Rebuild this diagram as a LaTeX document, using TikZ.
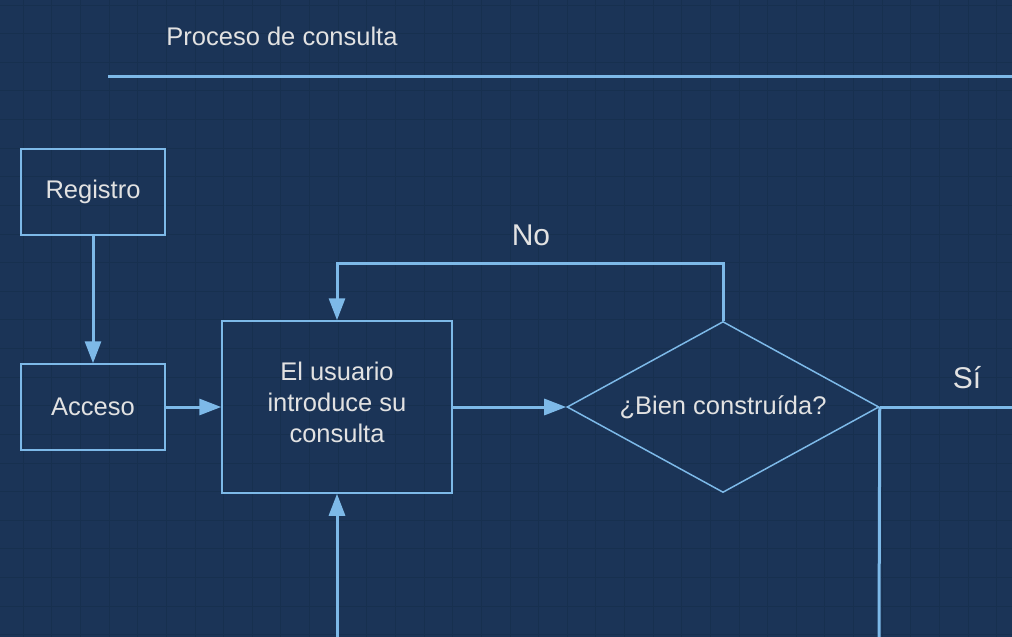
\documentclass[tikz,border=0pt]{standalone}
\usepackage{fontspec}
\setmainfont{Liberation Sans}
\usetikzlibrary{shapes.geometric,arrows.meta}

\definecolor{bgblue}{HTML}{1B3457}
\definecolor{gridblue}{HTML}{17304F}
\definecolor{lineblue}{HTML}{7DB9E8}
\definecolor{txtgray}{HTML}{E2E2E2}

\tikzset{
  box/.style={draw=lineblue, line width=0.75pt, text=txtgray, align=center,
    font=\fontsize{12.75}{15.5}\selectfont, inner sep=0pt},
  decision/.style={box, diamond, aspect=2, minimum width=156pt, minimum height=85.5pt},
  flow/.style={draw=lineblue, line width=1.5pt,
    -{Triangle[length=11pt,width=8pt]}},
  plain/.style={draw=lineblue, line width=1.5pt},
  label/.style={text=txtgray, font=\fontsize{15}{18}\selectfont},
  gridline/.style={draw=gridblue, line width=0.5pt}
}

\begin{document}
\begin{tikzpicture}[x=0.5pt,y=-0.5pt]
\useasboundingbox (0,0) rectangle (1012,637);
\fill[bgblue] (0,0) rectangle (1012,637);

% grid
\foreach \i in {0,...,35} {
  \draw[gridline] ({23.3+28.63*\i},0) -- ({23.3+28.63*\i},637);
}
\foreach \j in {0,...,22} {
  \draw[gridline] (0,{5+28.63*\j}) -- (1012,{5+28.63*\j});
}

% header
\node[label, font=\fontsize{12.75}{15.5}\selectfont] (title) at (282,36) {Proceso de consulta};
\coordinate (hl) at (108,76);
\coordinate (hr) at (1012,76);
\path[plain] (hl) -- (hr);

% nodes
\node[box, minimum width=72pt, minimum height=43pt] (reg) at (93,192) {Registro};
\node[box, minimum width=72pt, minimum height=43pt] (acc) at (93,407) {Acceso};
\node[box, minimum width=115pt, minimum height=86pt] (usr) at (337,407)
  {El usuario\\introduce su\\consulta\\[-10.5pt]};
\node[decision] (dia) at (723,407) {¿Bien construída?};

\node[label] (no) at (531,235) {No};
\node[label] (si) at (967,378) {Sí};

\coordinate (siend) at (1012,407);
\coordinate (down) at (879,637);
\coordinate (up) at (337,637);

% connectors
\path[flow] (reg) -- (acc);
\path[flow] (acc) -- (usr);
\path[flow] (usr) -- (dia);
\path[flow] (dia.north) -- (dia.north |- 0,263) -| (usr.north);
\path[flow] (up) -- (usr.south);
\path[plain] (dia.east) -- (siend);
\path[plain] (dia.east) -- (down);

\end{tikzpicture}
\end{document}
